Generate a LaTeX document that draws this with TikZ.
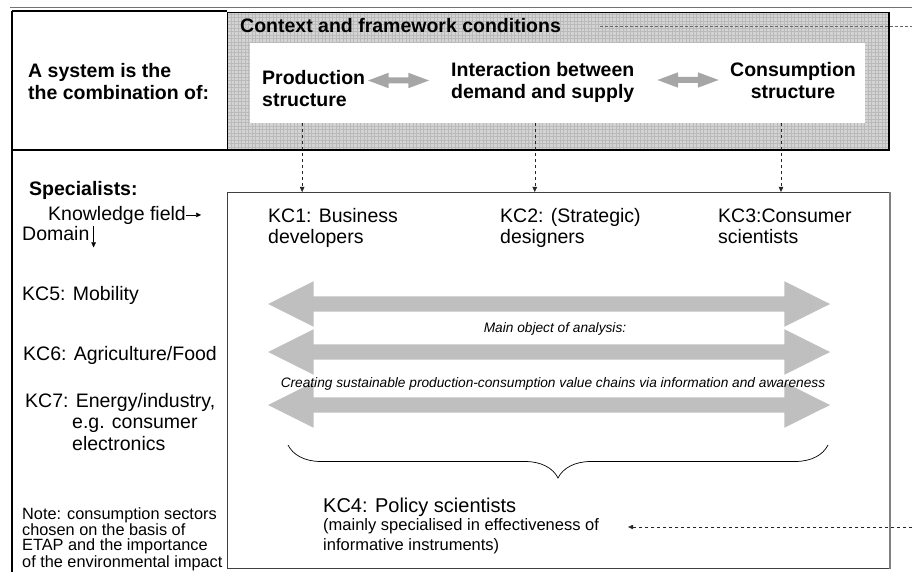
\documentclass[tikz,border=0pt]{standalone}
\usepackage{fontspec}
\setmainfont{Liberation Sans}
\usetikzlibrary{arrows.meta, positioning, shapes.arrows, decorations.pathreplacing}

\begin{document}
\begin{tikzpicture}[
        x=1pt, y=-1pt,
        every node/.style={inner sep=0pt},
        txt/.style={font=\fontsize{19.5}{21}\selectfont, align=left, anchor=base west},
        headtxt/.style={font=\bfseries\fontsize{19.5}{22}\selectfont, align=left, anchor=base west},
        notetxt/.style={font=\fontsize{16.3}{15}\selectfont, align=left, anchor=base west},
        ital/.style={font=\itshape\fontsize{13.7}{16}\selectfont, anchor=base},
        bigarrow/.style={double arrow, fill=black!25, minimum height=562pt, inner xsep=0pt, inner ysep=7.5pt,
            double arrow head extend=15pt, double arrow tip angle=53},
        smallarrow/.style={double arrow, fill=black!35, minimum height=61pt, inner xsep=0pt, inner ysep=2.8pt,
            double arrow head extend=4.7pt, double arrow tip angle=41},
        dasharrow/.style={dashed, black!85, -{Triangle[length=5pt, width=4.5pt]}},
        dashline/.style={dash pattern=on 3pt off 2pt, black!60},
        tip/.style={-{Triangle[length=5pt, width=4.5pt]}}
    ]
    \fill[white] (0,0) rectangle (912,572);
    \useasboundingbox (0,0) rectangle (912,572);

    % frame of the top part
    \draw[black!55, line width=0.8pt] (10,7) -- (912,7);
    \draw[line width=1.6pt] (12,11) -- (227,11) (12,150) -- (227,150) (12,11) -- (12,572);

    % context box with its texture
    \node[fill=black!17, minimum width=662pt, minimum height=138pt, anchor=north west] (frame) at (227,12) {};
    \begin{scope}
        \clip (frame.north west) rectangle (frame.south east);
        \draw[black!27, line width=0.3pt, step=3.5pt] (frame.north west) grid (frame.south east);
    \end{scope}
    \draw[line width=0.8pt] (frame.north west) rectangle (frame.south east);
    \draw[line width=2pt] (frame.north east) -- (frame.south east) -- (frame.south west);
    \node[fill=white, minimum width=615pt, minimum height=80pt, anchor=north west] (inner) at (250,43) {};

    % box of the specialists
    \node[draw=black!75, line width=0.8pt, minimum width=662pt, minimum height=376pt, anchor=north west] (lower) at (227,192) {};
    \draw[black!50, line width=2pt] (lower.north east) -- (lower.south east);

    % top texts (multi-line nodes sit on their last line)
    \node[headtxt] (system) at (28,100) {A system is the\\the combination of:};
    \node[headtxt] (ctx) at (240,33) {Context and framework conditions};
    \node[headtxt] (prod) at (262,107) {Production\\structure};
    \node[headtxt] (inter) at (451,99) {Interaction between\\demand and supply};
    \node[headtxt, align=center, anchor=base] (cons) at (793,99) {Consumption\\structure};
    \node[smallarrow] (arr1) at (398.5,80.5) {};
    \node[smallarrow] (arr2) at (688,80) {};

    % left column
    \node[headtxt] (spec) at (29,196) {Specialists:};
    \node[txt] (know) at (48,220) {Knowledge field};
    \node[txt] (dom) at (22,240) {Domain};
    \node[txt] (kc5) at (22,300) {KC5: Mobility};
    \node[txt] (kc6) at (23,360) {KC6: Agriculture/Food};
    \node[txt, font=\fontsize{19.5}{21.5}\selectfont] (kc7) at (25,450)
        {KC7: Energy/industry,\\\hspace*{47pt}e.g. consumer\\\hspace*{47pt}electronics};
    \node[notetxt] (note) at (22,567) {Note: consumption sectors\\chosen on the basis of\\ETAP and the importance\\of the environmental impact};
    \coordinate[right=15pt of know.east] (knowtip);
    \draw[tip] (know.east) -- (knowtip);
    \draw[tip] ([xshift=4pt]dom.north east) -- ([xshift=4pt, yshift=-7pt]dom.south east);

    % knowledge fields
    \node[txt] (kc1) at (268,243) {KC1: Business\\developers};
    \node[txt] (kc2) at (500,243) {KC2: (Strategic)\\designers};
    \node[txt] (kc3) at (718,243) {KC3:Consumer\\scientists};

    % value chains
    \node[bigarrow] (chain1) at (549,304) {};
    \node[bigarrow] (chain2) at (549,352) {};
    \node[bigarrow] (chain3) at (549,405) {};
    \node[ital] (main) at (555,332) {Main object of analysis:};
    \node[ital] (creating) at (553,387) {Creating sustainable production-consumption value chains via information and awareness};

    \coordinate (braceR) at (828,445);
    \coordinate (braceL) at (288,445);
    \draw[decorate, decoration={brace, amplitude=33pt}, line width=0.7pt] (braceR) -- (braceL);

    \node[txt, font=\fontsize{20}{22}\selectfont] (kc4) at (323,512) {KC4: Policy scientists};
    \node[txt, font=\fontsize{16.5}{20}\selectfont] (kc4note) at (323,550) {(mainly specialised in effectiveness of\\informative instruments)};

    % connectors
    \draw[dasharrow] ([xshift=-11.5pt]prod.south |- inner.south) -- ([xshift=-11.5pt]prod.south |- lower.north);
    \draw[dasharrow] ([xshift=-8pt]inter.south |- inner.south) -- ([xshift=-8pt]inter.south |- lower.north);
    \draw[dasharrow] ([xshift=-12pt]cons.south |- inner.south) -- ([xshift=-12pt]cons.south |- lower.north);
    \coordinate (edgeT) at (912,27);
    \coordinate (edgeB) at (912,527);
    \draw[dashline] ([xshift=39pt]ctx.east) -- (ctx.east -| edgeT);
    \draw[dasharrow] (edgeB) -- ([xshift=29pt]kc4note.east |- edgeB);
\end{tikzpicture}
\end{document}
